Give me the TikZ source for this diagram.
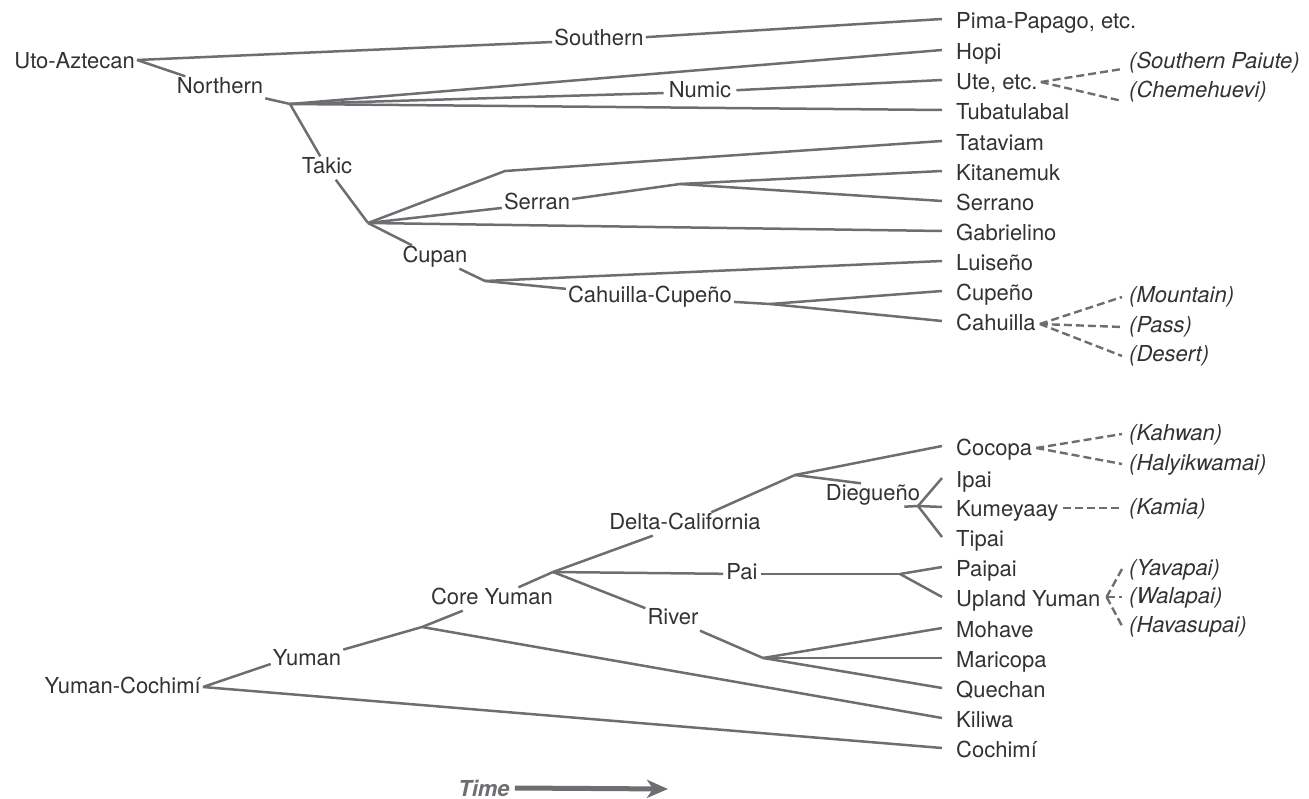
\documentclass[tikz,border=0pt]{standalone}
\usepackage{fontspec}
\setmainfont{TeX Gyre Heros}
\usetikzlibrary{arrows.meta}
\definecolor{ln}{RGB}{109,110,113}
\definecolor{tx}{RGB}{50,50,52}
\begin{document}
\begin{tikzpicture}[x=1pt,y=-1pt,
  every node/.style={font=\fontsize{22}{26}\selectfont, text=tx},
  lbl/.style={inner xsep=2pt, inner ysep=2pt, text height=15pt, text depth=4pt},
  leaf/.style={anchor=west, inner xsep=0pt, inner ysep=0pt, text height=19pt, text depth=0pt},
  sub/.style={anchor=west, inner xsep=0pt, inner ysep=0pt, text height=12pt, text depth=0pt,
              font=\fontsize{22}{26}\selectfont\itshape},
  br/.style={draw=ln, line width=2.5pt, line join=round},
  dsh/.style={draw=ln, line width=2.4pt, dash pattern=on 8pt off 4pt},
]
\useasboundingbox (0,0) rectangle (1309,799);

% branch points
\coordinate (N) at (290,104);
\coordinate (T) at (368,223);
\coordinate (tatb) at (505,171);
\coordinate (S) at (680,184);
\coordinate (C) at (485,281);
\coordinate (CC) at (770,304);
\coordinate (CY) at (422,627);
\coordinate (D) at (553,572);
\coordinate (DC) at (795,475);
\coordinate (DG) at (918,506);
\coordinate (P) at (900,574);
\coordinate (R) at (763,658);
\coordinate (tend) at (668,789);

% internal labels
\node[lbl,anchor=east] (ua) at (137,63) {Uto-Aztecan};
\node[lbl] (south) at (599,40) {Southern};
\node[lbl] (north) at (220,88) {Northern};
\node[lbl] (takic) at (327,168) {Takic};
\node[lbl,inner xsep=5pt] (numic) at (700,92) {Numic};
\node[lbl] (serran) at (537,204) {Serran};
\node[lbl] (cupan) at (435,257) {Cupan};
\node[lbl] (cahcup) at (650,297) {Cahuilla-Cupeño};
\node[lbl,anchor=east] (yc) at (203,688) {Yuman-Cochimí};
\node[lbl] (yuman) at (307,660) {Yuman};
\node[lbl] (core) at (492,599) {Core Yuman};
\node[lbl] (delcal) at (685,524) {Delta-California};
\node[lbl] (dieg) at (873,495) {Diegueño};
\node[lbl,inner xsep=3pt] (pai) at (742,574) {Pai};
\node[lbl] (river) at (673,619) {River};

% leaves (upper)
\node[leaf] (pima) at (956,19) {Pima-Papago, etc.};
\node[leaf] (hopi) at (956,50) {Hopi};
\node[leaf] (ute) at (956,80) {Ute, etc.};
\node[leaf] (tub) at (956,110) {Tubatulabal};
\node[leaf] (tat) at (956,141) {Tataviam};
\node[leaf] (kit) at (956,171) {Kitanemuk};
\node[leaf] (serrano) at (956,201) {Serrano};
\node[leaf] (gab) at (956,231) {Gabrielino};
\node[leaf] (lui) at (956,261) {Luiseño};
\node[leaf] (cupeno) at (956,291) {Cupeño};
\node[leaf] (cah) at (956,321) {Cahuilla};

% leaves (lower)
\node[leaf] (cocopa) at (956,446) {Cocopa};
\node[leaf] (ipai) at (956,478) {Ipai};
\node[leaf] (kum) at (956,507) {Kumeyaay};
\node[leaf] (tipai) at (956,537) {Tipai};
\node[leaf] (paipai) at (956,567) {Paipai};
\node[leaf] (upland) at (956,597) {Upland Yuman};
\node[leaf] (mohave) at (956,628) {Mohave};
\node[leaf] (maricopa) at (956,658) {Maricopa};
\node[leaf] (quechan) at (956,688) {Quechan};
\node[leaf] (kiliwa) at (956,718) {Kiliwa};
\node[leaf] (cochimi) at (956,748) {Cochimí};

% dialect labels
\node[sub] (sp) at (1129,63) {(Southern Paiute)};
\node[sub] (chem) at (1129,92) {(Chemehuevi)};
\node[sub] (mountain) at (1129,297) {(Mountain)};
\node[sub] (pass) at (1129,327) {(Pass)};
\node[sub] (desert) at (1129,356) {(Desert)};
\node[sub] (kahwan) at (1129,434) {(Kahwan)};
\node[sub] (haly) at (1129,464) {(Halyikwamai)};
\node[sub] (kamia) at (1129,508) {(Kamia)};
\node[sub] (yava) at (1129,569) {(Yavapai)};
\node[sub] (wala) at (1129,597) {(Walapai)};
\node[sub] (hava) at (1129,626) {(Havasupai)};

% time
\node[inner sep=2pt, font=\fontsize{22}{26}\selectfont\bfseries\itshape, text=ln] (time) at (484,788) {Time};

% upper tree
\draw[br] ([yshift=3pt]ua.east) -- (south);
\draw[br] (south) -- ([xshift=-14pt]pima.west);
\draw[br] ([yshift=3pt]ua.east) -- (north);
\draw[br] (north) -- (N);
\draw[br] (N) -- ([xshift=-14pt]hopi.west);
\draw[br] (N) -- (numic);
\draw[br] (numic) -- ([xshift=-14pt]ute.west);
\draw[br] (N) -- ([xshift=-14pt]tub.west);
\draw[br] (N) -- (takic);
\draw[br] (takic) -- (T);
\draw[br] (T) -- (tatb) -- ([xshift=-14pt]tat.west);
\draw[br] (T) -- (serran);
\draw[br] (serran) -- (S);
\draw[br] (S) -- ([xshift=-14pt]kit.west);
\draw[br] (S) -- ([xshift=-14pt]serrano.west);
\draw[br] (T) -- ([xshift=-14pt]gab.west);
\draw[br] (T) -- (cupan);
\draw[br] (cupan) -- (C);
\draw[br] (C) -- ([xshift=-14pt]lui.west);
\draw[br] (C) -- (cahcup);
\draw[br] (cahcup) -- (CC);
\draw[br] (CC) -- ([xshift=-14pt]cupeno.west);
\draw[br] (CC) -- ([xshift=-14pt]cah.west);

% upper dialects
\draw[dsh] ([xshift=3pt,yshift=-2pt]ute.east) -- ([xshift=-7pt,yshift=-6pt]sp.west);
\draw[dsh] ([xshift=3pt,yshift=-2pt]ute.east) -- ([xshift=-7pt,yshift=-9pt]chem.west);
\draw[dsh] ([xshift=4pt,yshift=-3pt]cah.east) -- ([xshift=-7pt]mountain.west);
\draw[dsh] ([xshift=4pt,yshift=-3pt]cah.east) -- ([xshift=-7pt]pass.west);
\draw[dsh] ([xshift=4pt,yshift=-3pt]cah.east) -- ([xshift=-7pt]desert.west);

% lower tree
\draw[br] ([yshift=1pt]yc.east) -- ([yshift=-4pt]yuman.west);
\draw[br] ([yshift=1pt]yc.east) -- ([xshift=-14pt]cochimi.west);
\draw[br] (yuman) -- (CY);
\draw[br] (CY) -- (core);
\draw[br] (CY) -- ([xshift=-14pt]kiliwa.west);
\draw[br] (core) -- (D);
\draw[br] (D) -- (delcal);
\draw[br] (delcal) -- (DC);
\draw[br] (DC) -- ([xshift=-14pt]cocopa.west);
\draw[br] (DC) -- ([xshift=-12pt]dieg.north);
\draw[br] ([xshift=-18pt]dieg.south east) -- (DG);
\draw[br] (DG) -- ([xshift=-14pt]ipai.west);
\draw[br] (DG) -- ([xshift=-14pt]kum.west);
\draw[br] (DG) -- ([xshift=-14pt]tipai.west);
\draw[br] (D) -- (pai);
\draw[br] (pai) -- (P);
\draw[br] (P) -- ([xshift=-14pt]paipai.west);
\draw[br] (P) -- ([xshift=-14pt]upland.west);
\draw[br] (D) -- (river);
\draw[br] (river) -- (R);
\draw[br] (R) -- ([xshift=-14pt]mohave.west);
\draw[br] (R) -- ([xshift=-14pt]maricopa.west);
\draw[br] (R) -- ([xshift=-14pt]quechan.west);

% lower dialects
\draw[dsh] ([xshift=4pt,yshift=-2pt]cocopa.east) -- ([xshift=-7pt]kahwan.west);
\draw[dsh] ([xshift=4pt,yshift=-2pt]cocopa.east) -- ([xshift=-7pt]haly.west);
\draw[dsh] ([xshift=5pt,yshift=-1pt]kum.east) -- ([xshift=-7pt]kamia.west);
\draw[dsh] ([xshift=6pt]upland.east) -- ([xshift=-7pt]yava.west);
\draw[dsh] ([xshift=6pt]upland.east) -- ([xshift=-7pt]wala.west);
\draw[dsh] ([xshift=6pt]upland.east) -- ([xshift=-7pt]hava.west);

% time arrow
\draw[draw=ln, line width=5pt, -{Stealth[length=21pt,width=18pt,inset=6pt]}] ([xshift=3pt]time.east) -- (tend);
\end{tikzpicture}
\end{document}
